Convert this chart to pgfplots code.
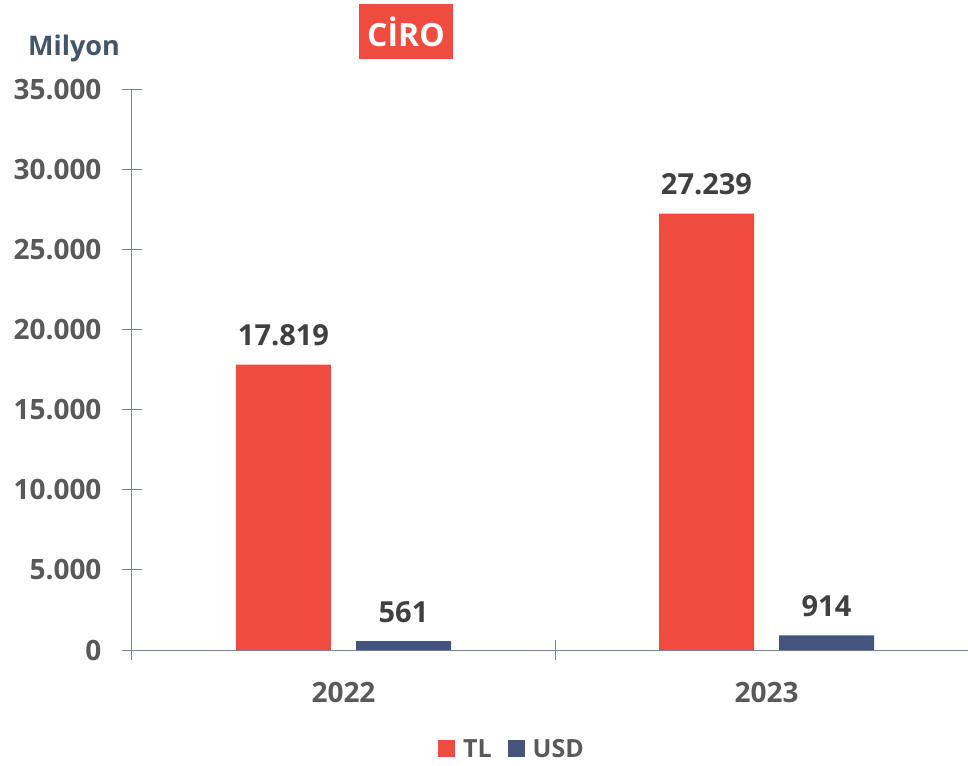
\documentclass[border=0pt]{standalone}
\usepackage{pgfplots}
\pgfplotsset{compat=1.18}
\usepackage{fontspec}
\setmainfont{Open Sans}
\definecolor{tlred}{RGB}{239,75,63}
\definecolor{usdblue}{RGB}{68,84,124}
\definecolor{axgray}{RGB}{120,132,156}
\definecolor{lblgray}{RGB}{89,89,89}
\definecolor{valgray}{RGB}{64,64,64}
\definecolor{milyon}{RGB}{68,84,106}
\begin{document}
\begin{tikzpicture}
\useasboundingbox (-343.5pt,-115pt) rectangle (624.5pt,650pt);
\pgfkeys{/pgf/number format/.cd,1000 sep={.},assume math mode=true}
\begin{axis}[
  anchor=origin, at={(0pt,0pt)},
  x=423pt, y=0.016028571pt,
  xmin=-0.5, xmax=1.4764, ymin=0, ymax=35000,
  axis x line=bottom, axis y line=left,
  axis line style={-, axgray, line width=1pt},
  tick style={axgray, line width=1pt},
  tick align=center, major tick length=20pt,
  ytick={0,5000,...,35000},
  scaled y ticks=false,
  yticklabel style={font=\bfseries\fontsize{28}{30}\selectfont, text=lblgray, xshift=-17pt, /pgf/number format/1000 sep={.}, /pgf/number format/assume math mode=true},
  xtick={-0.5,0.5}, xticklabels={},
  extra x ticks={0,1}, extra x tick labels={2022,2023},
  extra x tick style={major tick length=0pt, tick style={draw=none}},
  xticklabel style={font=\bfseries\fontsize{28}{30}\selectfont, text=lblgray, yshift=-29pt},
  nodes near coords,
  nodes near coords style={font=\bfseries\fontsize{29}{32}\selectfont, text=valgray, anchor=base, yshift=19pt, /pgf/number format/1000 sep={.}, /pgf/number format/assume math mode=true},
  legend style={draw=none, at={(axis description cs:0.4545,-0.1765)}, anchor=center,
    font=\bfseries\fontsize{25}{28}\selectfont, text=lblgray,
    /tikz/every even column/.append style={column sep=14pt}},
  legend columns=2,
  legend image code/.code={\fill[#1] (0pt,-8.5pt) rectangle (17pt,8.5pt); \path (23pt,0pt);},
  clip=false,
]
\addplot[ybar, bar width=95pt, bar shift=-60pt, fill=tlred, draw=none, nodes near coords style={xshift=-60pt}] coordinates {(0,17819) (1,27239)};
\addlegendentry{TL}
\addplot[ybar, bar width=95pt, bar shift=60pt, fill=usdblue, draw=none, nodes near coords style={xshift=60pt}] coordinates {(0,561) (1,914)};
\addlegendentry{USD}
\end{axis}
\node[fill=tlred, text=white, font=\bfseries\fontsize{32}{36}\selectfont, minimum width=94pt, minimum height=55pt, inner sep=0pt] at (62.5pt,618.5pt) {CİRO};
\node[text=milyon, font=\bfseries\fontsize{27}{30}\selectfont] at (-269.5pt,602pt) {Milyon};
\end{tikzpicture}
\end{document}
